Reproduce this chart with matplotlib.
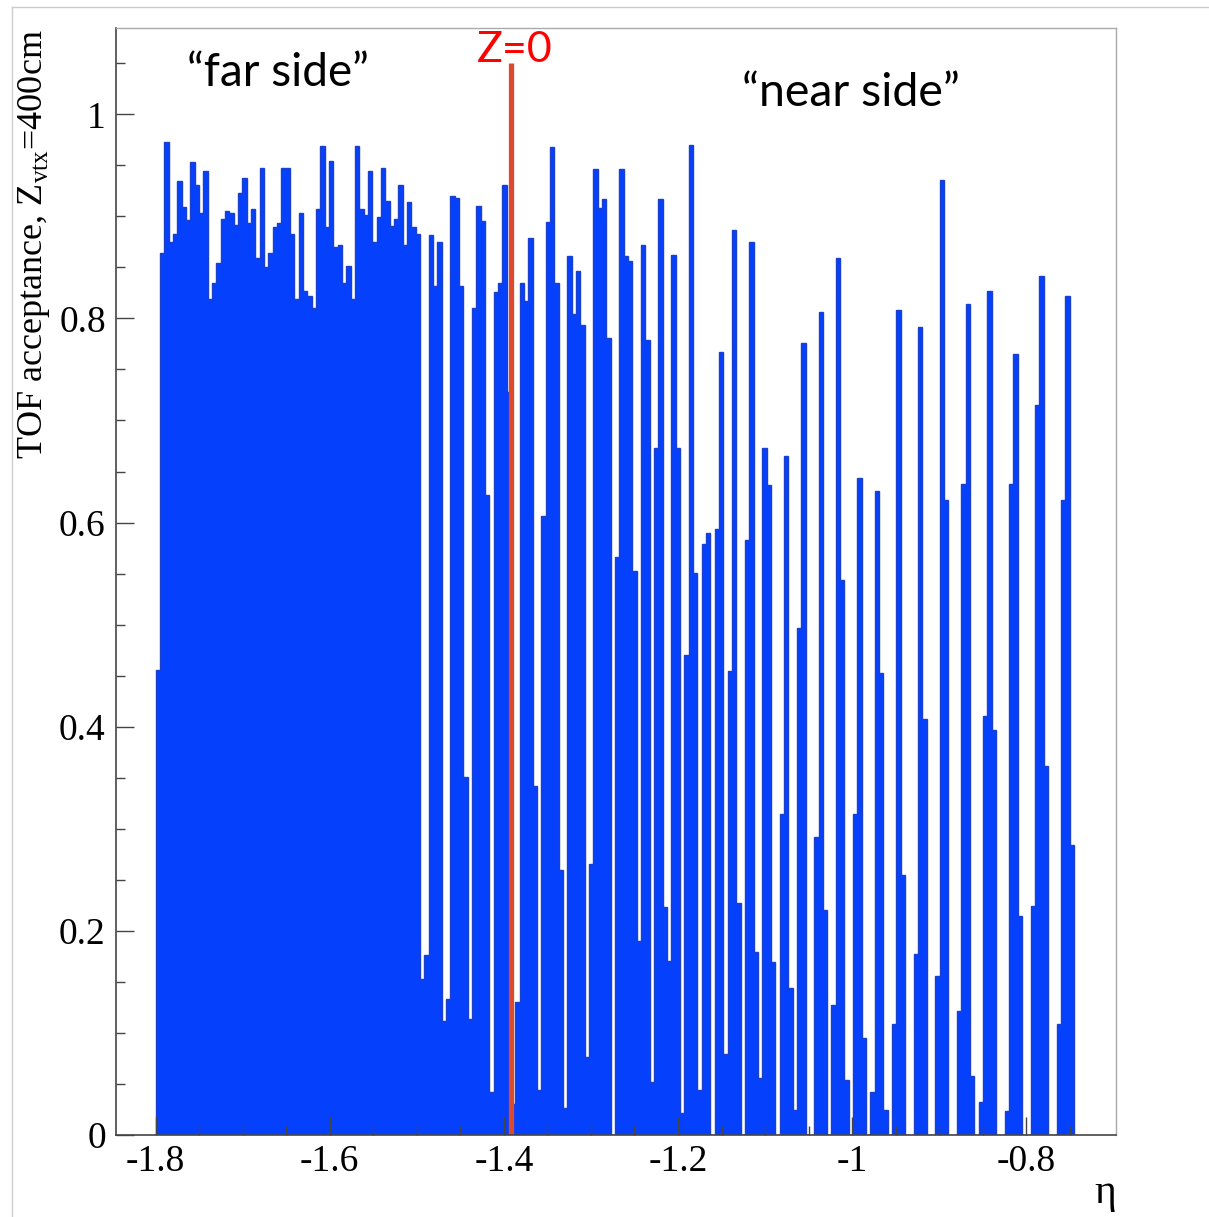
import numpy as np
import matplotlib
matplotlib.use("Agg")
import matplotlib.pyplot as plt
from matplotlib.lines import Line2D

# TOF acceptance per eta bin (0.005 wide)
far_side = [0.456, 0.864, 0.973, 0.875, 0.883, 0.935, 0.909, 0.896, 0.953, 0.931,
            0.903, 0.944, 0.819, 0.835, 0.854, 0.897, 0.905, 0.903, 0.892, 0.923,
            0.938, 0.893, 0.907, 0.859, 0.947, 0.850, 0.864, 0.890, 0.893, 0.947,
            0.947, 0.883, 0.819, 0.903, 0.827, 0.822, 0.810, 0.907, 0.969, 0.890,
            0.954, 0.870, 0.872, 0.835, 0.851, 0.819, 0.969, 0.907, 0.901, 0.944,
            0.875, 0.899, 0.947, 0.915, 0.891, 0.897, 0.931, 0.872, 0.914, 0.890,
            0.883]
near_side = [0.153, 0.176, 0.882, 0.832, 0.875, 0.112, 0.133, 0.920, 0.918, 0.832,
             0.351, 0.114, 0.810, 0.910, 0.895, 0.627, 0.042, 0.826, 0.835, 0.931,
             0.728, 0.030, 0.130, 0.835, 0.817, 0.879, 0.342, 0.044, 0.606, 0.894,
             0.968, 0.835, 0.260, 0.026, 0.861, 0.804, 0.846, 0.794, 0.076, 0.265,
             0.946, 0.908, 0.917, 0.781, 0.000, 0.566, 0.946, 0.861, 0.856, 0.553,
             0.190, 0.872, 0.779, 0.052, 0.673, 0.917, 0.223, 0.170, 0.862, 0.673,
             0.022, 0.470, 0.970, 0.551, 0.044, 0.579, 0.590, 0.000, 0.594, 0.767,
             0.079, 0.455, 0.887, 0.227, 0.000, 0.583, 0.875, 0.179, 0.056, 0.673,
             0.637, 0.169, 0.000, 0.314, 0.665, 0.144, 0.024, 0.497, 0.776, 0.000,
             0.000, 0.292, 0.806, 0.220, 0.000, 0.127, 0.859, 0.544, 0.054, 0.000,
             0.314, 0.644, 0.095, 0.000, 0.042, 0.631, 0.453, 0.024, 0.000, 0.109,
             0.808, 0.255, 0.000, 0.000, 0.177, 0.792, 0.408, 0.000, 0.000, 0.156,
             0.936, 0.622, 0.000, 0.000, 0.121, 0.638, 0.814, 0.058, 0.000, 0.032,
             0.410, 0.827, 0.397, 0.000, 0.000, 0.023, 0.638, 0.765, 0.215, 0.000,
             0.000, 0.224, 0.715, 0.842, 0.361, 0.000, 0.000, 0.109, 0.622, 0.822,
             0.284]
acceptance = np.array(far_side + near_side)

eta_min, eta_max = -1.8, -0.745
eta_edges = np.linspace(eta_min, eta_max, len(acceptance) + 1)
eta_z0 = -1.392   # position of the Z=0 marker
x_ticks = [-1.8, -1.6, -1.4, -1.2, -1.0, -0.8]
x_ticklabels = ["-1.8", "-1.6", "-1.4", "-1.2", "-1", "-0.8"]
y_ticks = [0, 0.2, 0.4, 0.6, 0.8, 1.0]
y_ticklabels = ["0", "0.2", "0.4", "0.6", "0.8", "1"]

serif = ["Liberation Serif", "DejaVu Serif"]
sans = ["Lato", "DejaVu Sans"]

fig = plt.figure(figsize=(12.09, 12.17), dpi=100)
ax = fig.add_axes([0.0956, 0.0674, 0.8274, 0.91])

ax.stairs(acceptance, eta_edges, fill=True, color="#0541fd", linewidth=0)
ax.stairs(acceptance, eta_edges, color="#1b40cc", linewidth=1.0, baseline=0)

# Z=0 marker
ax.plot([eta_z0, eta_z0], [0, 1.05], color="#dc4a2e", linewidth=3.8, solid_capstyle="butt")
ax.text(eta_z0 - 0.039, 1.051, "Z=0", color="#ff0000", fontsize=31, family=sans)
ax.text(-1.764, 1.028, "\u201cfar side\u201d", color="black", fontsize=33, family=sans)
ax.text(-1.127, 1.008, "\u201cnear side\u201d", color="black", fontsize=33.5, family=sans)

ax.set_xlim(-1.846, -0.697)
ax.set_ylim(0, 1.085)
ax.set_xticks(x_ticks)
ax.set_xticklabels(x_ticklabels, family=serif, fontsize=27)
ax.set_yticks(y_ticks)
ax.set_yticklabels(y_ticklabels, family=serif, fontsize=27)
ax.set_xticks(np.arange(-1.80, -0.70, 0.05), minor=True)
ax.set_yticks(np.arange(0, 1.08, 0.05), minor=True)
ax.tick_params(which="major", direction="in", length=13, width=1, color="#444444", pad=7)
ax.tick_params(which="minor", direction="in", length=6.5, width=1, color="#444444")
ax.tick_params(top=False, right=False, which="both")

ax.set_ylabel("TOF acceptance, Z$_{\\mathregular{vtx}}$=400cm", family=serif, fontsize=26, loc="top")
ax.yaxis.set_label_coords(-0.064, 0.998)
ax.set_xlabel("\u03b7", family=serif, fontsize=30, loc="right")
ax.xaxis.set_label_coords(1.0, -0.035)

for side in ["left", "bottom"]:
    ax.spines[side].set_color("#444444")
    ax.spines[side].set_linewidth(1.2)
for side in ["top", "right"]:
    ax.spines[side].set_color("#aaaaaa")
    ax.spines[side].set_linewidth(1.0)

# light frame of the slide picture
fig.add_artist(Line2D([12 / 1209, 12 / 1209], [0, 1 - 7 / 1217], color="#cccccc", linewidth=1))
fig.add_artist(Line2D([12 / 1209, 1], [1 - 7 / 1217, 1 - 7 / 1217], color="#cccccc", linewidth=1))

fig.savefig("out.png", dpi=100, facecolor="white")
